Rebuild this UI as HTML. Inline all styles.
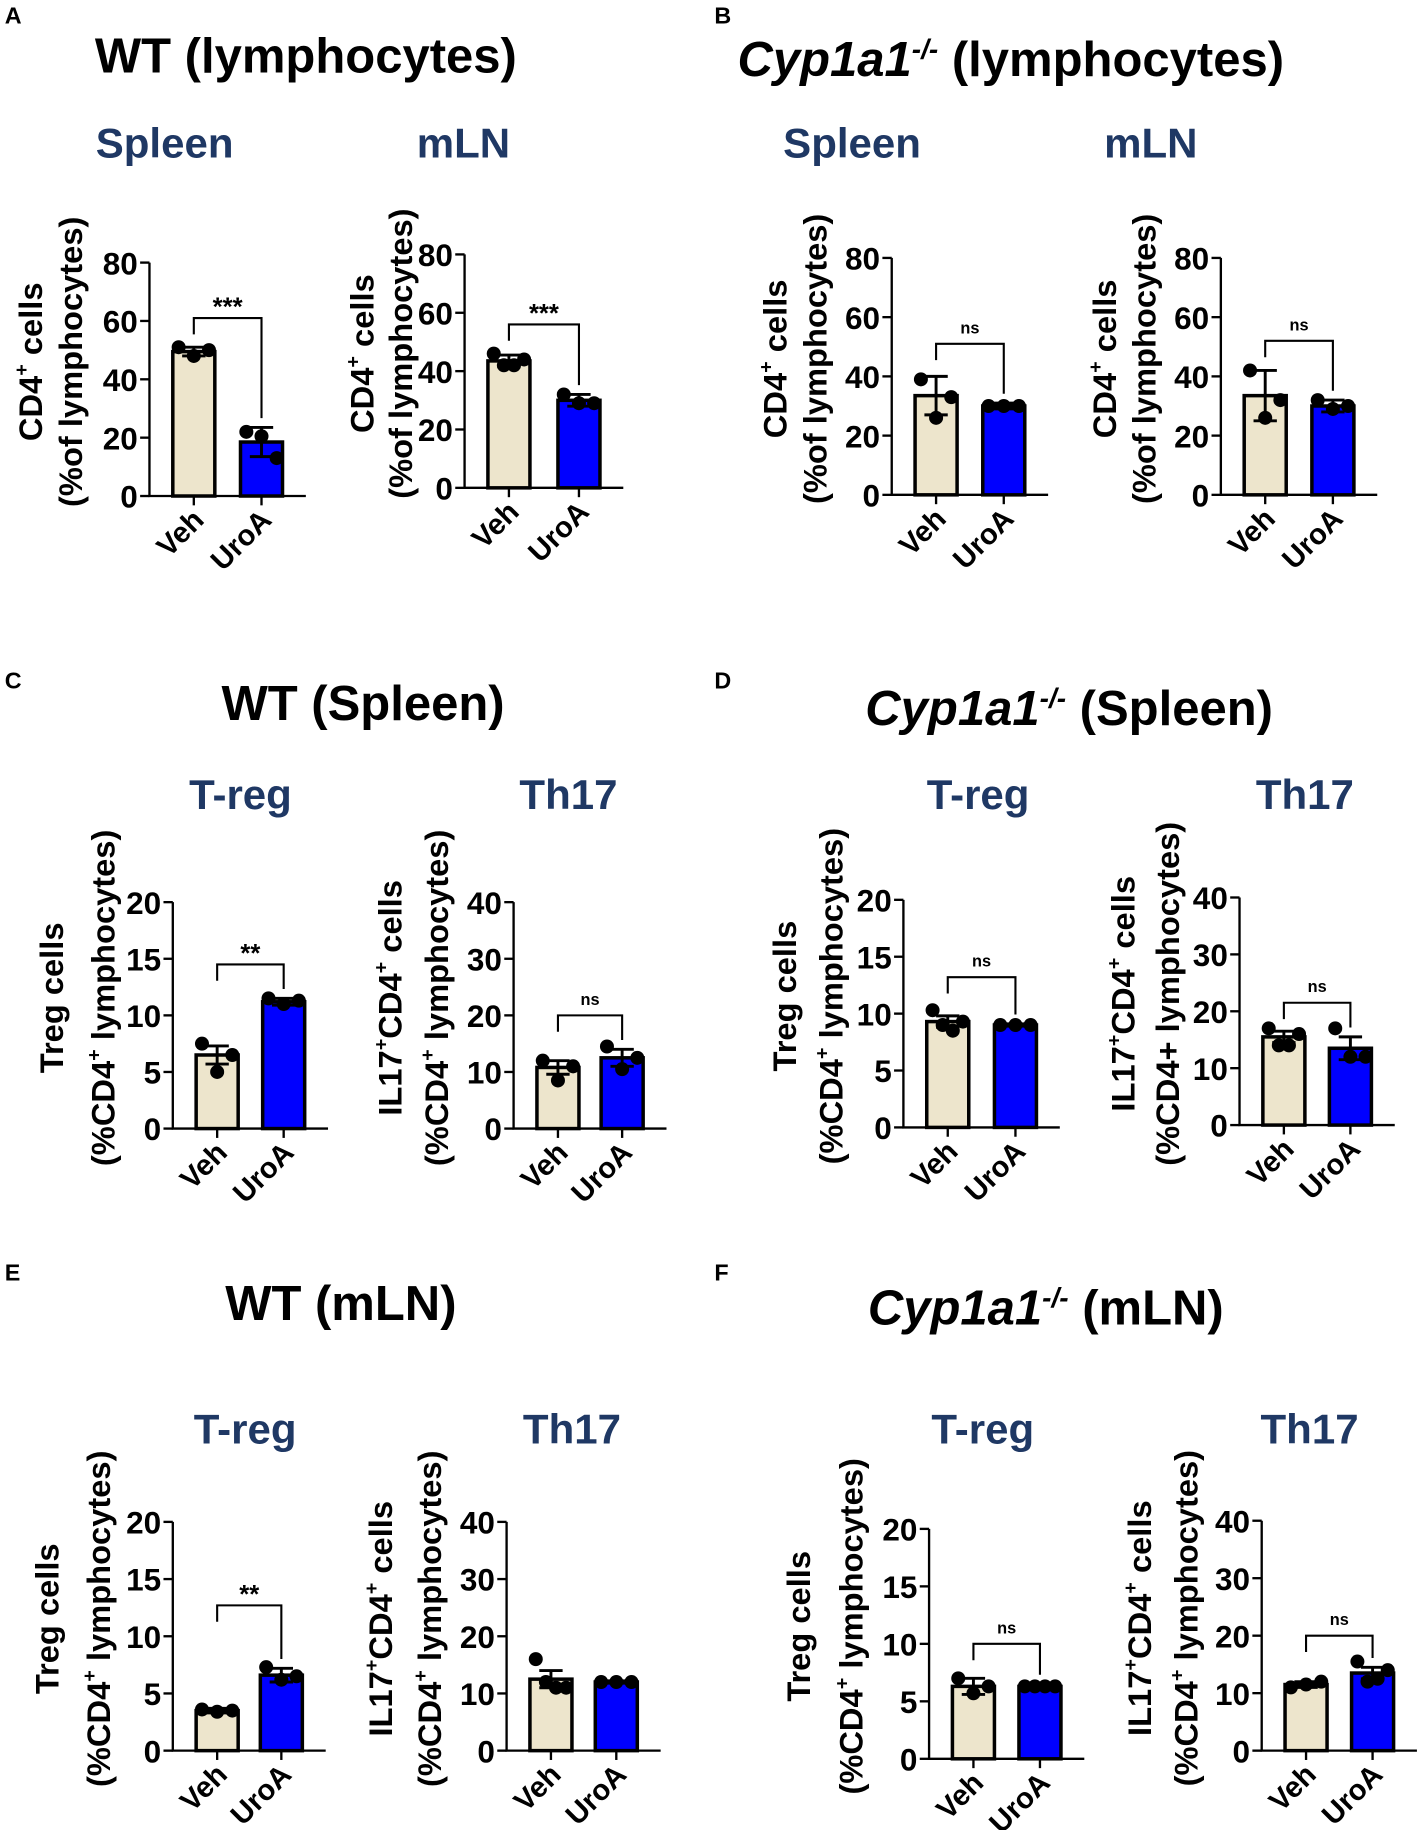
<!DOCTYPE html>
<html><head><meta charset="utf-8"><style>
html,body{margin:0;padding:0;background:#fff}
svg{display:block}
text{font-family:"Liberation Sans",Arial,sans-serif;font-weight:bold}
</style></head><body>
<svg id="fig" width="1417" height="1830" viewBox="0 0 1214 1568" xmlns="http://www.w3.org/2000/svg">
<g font-size="20" fill="#000">
<text x="4" y="20">A</text><text x="612" y="20">B</text>
<text x="4" y="590">C</text><text x="612" y="590">D</text>
<text x="4" y="1097">E</text><text x="612" y="1097">F</text>
</g>
<g font-size="42" text-anchor="middle" fill="#000">
<text x="262" y="62">WT (lymphocytes)</text>
<text x="866" y="65"><tspan font-style="italic">Cyp1a1</tspan><tspan font-style="italic" font-size="24" dy="-15">-/-</tspan><tspan dy="15"> (lymphocytes)</tspan></text>
<text x="311" y="617">WT (Spleen)</text>
<text x="916" y="621"><tspan font-style="italic">Cyp1a1</tspan><tspan font-style="italic" font-size="24" dy="-15">-/-</tspan><tspan dy="15"> (Spleen)</tspan></text>
<text x="292" y="1131">WT (mLN)</text>
<text x="896" y="1135"><tspan font-style="italic">Cyp1a1</tspan><tspan font-style="italic" font-size="24" dy="-15">-/-</tspan><tspan dy="15"> (mLN)</tspan></text>
</g>
<g font-size="36" text-anchor="middle" fill="#1f3864">
<text x="141" y="135">Spleen</text><text x="397" y="135">mLN</text>
<text x="730" y="135">Spleen</text><text x="986" y="135">mLN</text>
<text x="206" y="693">T-reg</text><text x="487" y="693">Th17</text>
<text x="838" y="693">T-reg</text><text x="1118" y="693">Th17</text>
<text x="210" y="1237">T-reg</text><text x="490" y="1237">Th17</text>
<text x="842" y="1237">T-reg</text><text x="1122" y="1237">Th17</text>
</g>
<g id="charts"></g>
</svg>
<script>
// ---- data (one entry per chart: A1,A2,B1,B2,C1,C2,D1,D2,E1,E2,F1,F2) ----
const chartNames = ["a-spleen","a-mln","b-spleen","b-mln","c-treg","c-th17","d-treg","d-th17","e-treg","e-th17","f-treg","f-th17"];
const categories = ["Veh","UroA"];
const yMax = [80,80,80,80,20,40,20,40,20,40,20,40];
const yStep = [20,20,20,20,5,10,5,10,5,10,5,10];
const vehMean = [49.5,43.5,33.5,33.5,6.5,10.8,9.3,15.5,3.5,12.5,6.3,11.5];
const uroMean = [18.5,30,30,30,11.2,12.5,9,13.5,6.6,12,6.3,13.5];
const vehErr = [1.5,2,6.5,8.5,0.8,1.2,0.5,1,0.2,1.5,0.7,0.5];
const uroErr = [5,2,1,2,0.3,1.5,0.1,2,0.6,0.2,0.2,1];
const vehPoints = [[51,48,50],[46,42,42,44],[39,26,33],[42,26,32],[7.5,5,6.5],[12,8.5,11],[10.3,9,8.5,9.3],[17,14,14,16],[3.6,3.4,3.5],[16,12,11,11],[7,5.7,6.3],[11,11.5,12]];
const uroPoints = [[22,20.5,13],[32,29,29],[30,30,30],[32,29,30],[11.5,11,11.3],[14.5,10.5,12.5],[9,9,9],[17,12,12],[7.3,6.2,6.5],[12,12,12],[6.3,6.3,6.3,6.3],[15.5,12,12.5,14]];
const sigLabel = ["***","***","ns","ns","**","ns","ns","ns","**","","ns","ns"];
const sigValue = [61,56,51,52,14.5,20,13.2,21.5,12.7,0,10,20];
const yTitle1 = ["CD4|+| cells","CD4|+| cells","CD4|+| cells","CD4|+| cells","Treg cells","IL17|+|CD4|+| cells","Treg cells","IL17|+|CD4|+| cells","Treg cells","IL17|+|CD4|+| cells","Treg cells","IL17|+|CD4|+| cells"];
const yTitle2 = ["(%of lymphocytes)","(%of lymphocytes)","(%of lymphocytes)","(%of lymphocytes)","(%CD4|+| lymphocytes)","(%CD4|+| lymphocytes)","(%CD4|+| lymphocytes)","(%CD4+ lymphocytes)","(%CD4|+| lymphocytes)","(%CD4|+| lymphocytes)","(%CD4|+| lymphocytes)","(%CD4|+| lymphocytes)"];

// ---- layout ----
const layout = [
 {veh:166,uro:224,top:225,bot:425,t1:26,t2:60},
 {veh:436,uro:496,top:218,bot:418,t1:310,t2:343},
 {veh:802,uro:860,top:221,bot:424,t1:664,t2:698},
 {veh:1084,uro:1142,top:221,bot:424,t1:946,t2:980},
 {veh:186,uro:243,top:773,bot:967,t1:44,t2:88},
 {veh:478,uro:533,top:773,bot:967,t1:334,t2:374},
 {veh:812,uro:870,top:771,bot:966,t1:672,t2:712},
 {veh:1100,uro:1157,top:769,bot:964,t1:962,t2:1000},
 {veh:186,uro:241,top:1304,bot:1500,t1:40,t2:84},
 {veh:472,uro:528,top:1304,bot:1500,t1:326,t2:368},
 {veh:834,uro:891,top:1310,bot:1507,t1:684,t2:729},
 {veh:1119,uro:1176,top:1303,bot:1500,t1:976,t2:1016}
];
const NS="http://www.w3.org/2000/svg";
const root=document.getElementById('charts');
function mk(tag,attrs,parent){const e=document.createElementNS(NS,tag);for(const k in attrs)e.setAttribute(k,attrs[k]);parent.appendChild(e);return e;}
function richText(el,str){
  const parts=str.split('|');
  parts.forEach((p,i)=>{
    const sup=i%2===1;
    const t=mk('tspan',{},el);
    if(sup){t.setAttribute('font-size','17');t.setAttribute('dy','-12');}
    else if(i>0){t.setAttribute('dy','12');}
    t.textContent=p;
  });
}
const BW=36;
for(let c=0;c<chartNames.length;c++){
  const L=layout[c];
  const g=mk('g',{},root);
  
  
  const y=v=>L.bot-(v/yMax[c])*(L.bot-L.top);
  const x0=L.veh-BW/2-20, x1=L.uro+BW/2+20;
  const means=[vehMean[c],uroMean[c]], errs=[vehErr[c],uroErr[c]], pts=[vehPoints[c],uroPoints[c]];
  const cx=[L.veh,L.uro], fills=['#ede5cc','#0000ff'];
  for(let i=0;i<2;i++){
    const b=mk('rect',{x:cx[i]-BW/2,y:y(means[i]),width:BW,height:L.bot-y(means[i]),fill:fills[i],stroke:'#000','stroke-width':3},g);
    
    
    const eb=mk('path',{d:`M${cx[i]} ${y(means[i]-errs[i])}V${y(means[i]+errs[i])}M${cx[i]-10} ${y(means[i]+errs[i])}H${cx[i]+10}M${cx[i]-10} ${y(means[i]-errs[i])}H${cx[i]+10}`,stroke:'#000','stroke-width':2.5,fill:'none'},g);
    
    
    const n=pts[i].length;
    pts[i].forEach((v,j)=>{
      const off=n===1?0:(-13+26*j/(n-1));
      const p=mk('circle',{cx:cx[i]+off,cy:y(v),r:6,fill:'#000'},g);
      
      
    });
  }
  const ax=mk('path',{d:`M${x0} ${L.top}V${L.bot}H${x1}`,stroke:'#000','stroke-width':2,fill:'none'},g);
  
  
  for(let v=0;v<=yMax[c];v+=yStep[c]){
    mk('line',{x1:x0-8,x2:x0,y1:y(v),y2:y(v),stroke:'#000','stroke-width':2},g);
    const t=mk('text',{x:x0-10,y:y(v)+10,'font-size':27,'text-anchor':'end'},g);
    
    
    t.textContent=v;
  }
  for(let i=0;i<2;i++){
    mk('line',{x1:cx[i],x2:cx[i],y1:L.bot,y2:L.bot+8,stroke:'#000','stroke-width':2},g);
    const t=mk('text',{x:0,y:0,'font-size':25,'text-anchor':'end',transform:`translate(${cx[i]+10},${L.bot+22}) rotate(-45)`},g);
    
    
    t.textContent=categories[i];
  }
  const cy=(L.top+L.bot)/2-15;
  const yt1=mk('text',{'font-size':28,'text-anchor':'middle',transform:`translate(${L.t1+10},${cy}) rotate(-90)`},g);
  
  
  richText(yt1,yTitle1[c]);
  const yt2=mk('text',{'font-size':28,'text-anchor':'middle',transform:`translate(${L.t2+10},${cy}) rotate(-90)`},g);
  
  
  richText(yt2,yTitle2[c]);
  if(sigLabel[c]){
    const by=y(sigValue[c]);
    const lEnd=Math.min(by+14,y(vehMean[c]+vehErr[c])-6);
    const rEnd=Math.max(by+14,y(uroMean[c]+uroErr[c])-8);
    const br=mk('path',{d:`M${L.veh} ${Math.max(lEnd,by+8)}V${by}H${L.uro}V${rEnd}`,stroke:'#000','stroke-width':1.8,fill:'none'},g);
    
    
    const ns=sigLabel[c]==='ns';
    const st=mk('text',{x:(L.veh+L.uro)/2,y:ns?by-9:by-2,'font-size':ns?14:22,'text-anchor':'middle','font-weight':ns?'normal':'bold'},g);
    
    
    st.textContent=sigLabel[c];
  }
}
</script>
</body></html>
